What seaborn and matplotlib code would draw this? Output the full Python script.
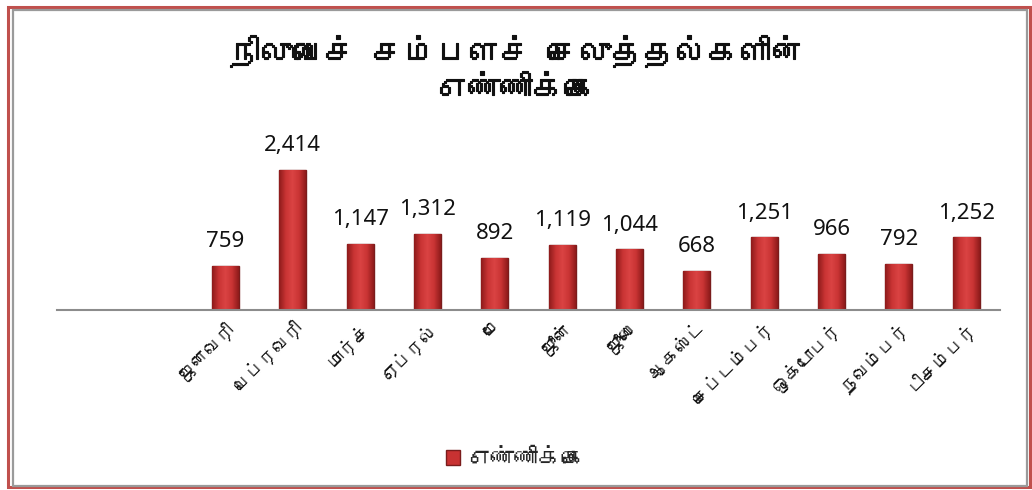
import numpy as np
import pandas as pd
import seaborn as sns
import matplotlib
matplotlib.use("Agg")
import matplotlib.pyplot as plt
import matplotlib.font_manager as fm
import matplotlib.patheffects as pe
from matplotlib.ft2font import FT2Font
from matplotlib.patches import Rectangle
from matplotlib.colors import LinearSegmentedColormap

# data (two leading empty category slots as in the original)
months = ["", " ", "ஜனவரி", "பெப்ரவரி", "மார்ச்", "ஏப்ரல்", "மே", "ஜூன்",
          "ஜூலை", "ஆகஸ்ட்", "செப்டம்பர்", "ஒக்டோபர்", "நவம்பர்", "டிசம்பர்"]
counts = [0, 0, 759, 2414, 1147, 1312, 892, 1119, 1044, 668, 1251, 966, 792, 1252]
title = "நிலுவைச் சம்பளச் செலுத்தல்களின்\nஎண்ணிக்கை"
series_name = "எண்ணிக்கை"


def find_tamil_font():
    names = []
    for f in fm.fontManager.ttflist:
        try:
            if 0x0B95 in FT2Font(f.fname).get_charmap():
                names.append(f.name)
        except Exception:
            pass
    return names[0] if names else None


sns.set_theme(style="white")
tamil = find_tamil_font()
families = ([tamil] if tamil else []) + ["Noto Sans", "DejaVu Sans"]
plt.rcParams["font.family"] = families

df = pd.DataFrame({"month": months, "count": counts})

fig = plt.figure(figsize=(10.32, 4.90), dpi=100)
ax = fig.add_axes([57 / 1032, 180 / 490, 943 / 1032, 160 / 490])

sns.barplot(data=df, x="month", y="count", ax=ax, color="#C83232",
            width=0.4, edgecolor="#7A1C1C", linewidth=1.0, saturation=1)

# bevel-like shading on each bar: dark sides, lighter middle
bar_cmap = LinearSegmentedColormap.from_list(
    "bar", ["#8E1B1B", "#C93434", "#DA4343", "#C93434", "#8E1B1B"])
grad = np.linspace(0, 1, 64).reshape(1, -1)
for p in ax.patches:
    h = p.get_height()
    if h <= 0:
        continue
    x0 = p.get_x()
    w = p.get_width()
    im = ax.imshow(grad, cmap=bar_cmap, aspect="auto",
                   extent=[x0, x0 + w, 0, h], zorder=p.get_zorder() + 0.1)
    im.set_clip_path(p)
ax.set_xlim(-0.5, len(months) - 0.5)
ax.set_ylim(0, 2760)

ax.set_xlabel("")
ax.set_ylabel("")
ax.set_yticks([])
for s in ["top", "left", "right"]:
    ax.spines[s].set_visible(False)
ax.spines["bottom"].set_color("#8C8C8C")
ax.spines["bottom"].set_linewidth(1.5)
ax.spines["bottom"].set_zorder(5)

# value labels
for i, v in enumerate(counts):
    if v > 0:
        ax.annotate(f"{v:,}", (i, v), xytext=(0, 10), textcoords="offset points",
                    ha="center", va="bottom", fontsize=16,
                    family=["Noto Sans", "DejaVu Sans"], color="#111111")

ax.tick_params(axis="x", length=0, pad=6)
ax.set_xticks(range(len(months)))
ax.set_xticklabels(months, rotation=45, ha="right", rotation_mode="anchor",
                   fontsize=13, color="#111111")

t = fig.text(0.5, 0.86, title, ha="center", va="center", fontsize=23,
             fontweight="bold", linespacing=1.45, color="#111111")
t.set_path_effects([pe.withStroke(linewidth=0.8, foreground="#111111")])

# legend
handle = Rectangle((0, 0), 1, 1, facecolor="#C83232", edgecolor="#7A1C1C")
fig.legend([handle], [series_name], loc="center", bbox_to_anchor=(0.5, 0.063),
           frameon=False, fontsize=17, handlelength=0.6, handleheight=0.6,
           handletextpad=0.3)

# chart frame
fig.add_artist(Rectangle((8 / 1032, 3 / 490), 1022 / 1032, 480 / 490,
                         transform=fig.transFigure, fill=False,
                         edgecolor="#C0504D", linewidth=2.2))
fig.add_artist(Rectangle((13 / 1032, 4 / 490), 1014 / 1032, 476 / 490,
                         transform=fig.transFigure, fill=False,
                         edgecolor="#9A9A9A", linewidth=1.6))

fig.savefig("out.png", dpi=100)
